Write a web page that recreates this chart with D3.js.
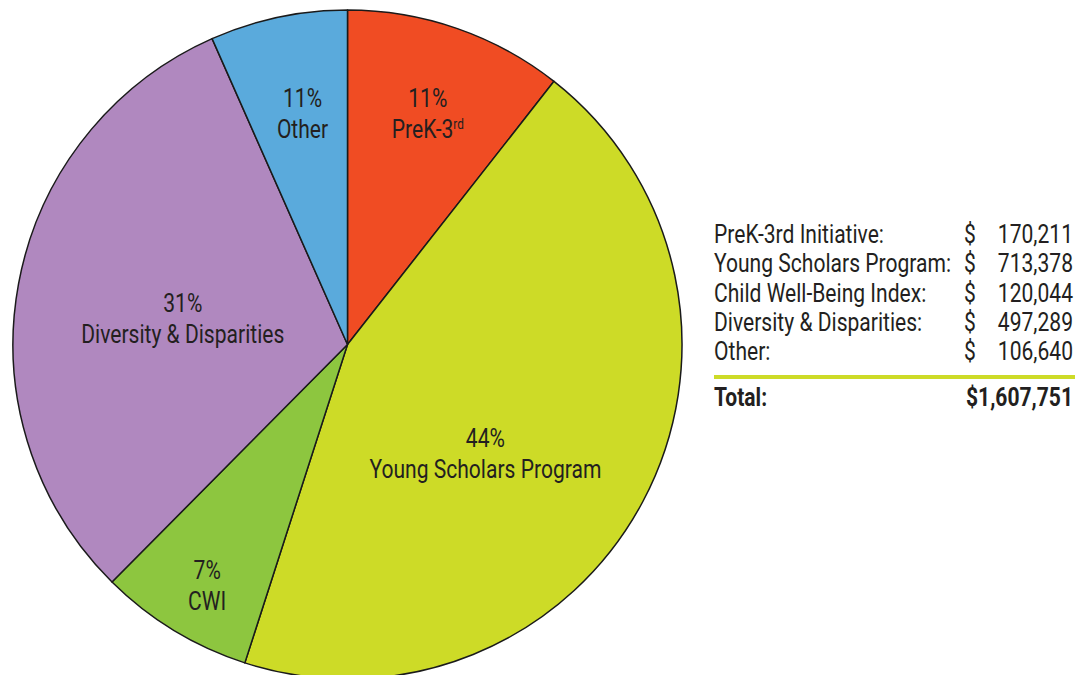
<!DOCTYPE html>
<html>
<head>
<meta charset="utf-8">
<script src="https://cdn.jsdelivr.net/npm/d3@7"></script>
<style>
  body { margin: 0; background: #fff; }
  svg text { font-family: "Roboto", "Liberation Sans", sans-serif; fill: #231f20; }
</style>
</head>
<body>
<div id="chart"></div>
<script>
// data
const categories = ["PreK-3rd Initiative", "Young Scholars Program", "Child Well-Being Index", "Diversity & Disparities", "Other"];
const shortNames = ["PreK-3", "Young Scholars Program", "CWI", "Diversity & Disparities", "Other"];
const amounts = [170211, 713378, 120044, 497289, 106640];
const pctLabels = ["11%", "44%", "7%", "31%", "11%"];
const amountLabels = ["170,211", "713,378", "120,044", "497,289", "106,640"];
const totalLabel = "$1,607,751";
const colors = ["#f04c23", "#cddb27", "#8dc63f", "#b088bf", "#5aaadc"];

// label placement (radius, angle nudge in degrees) per slice
const labelLayout = [
  { r: 246, da: 0 },
  { r: 175, da: 10 },
  { r: 278, da: -1 },
  { r: 167, da: -1 },
  { r: 237, da: 1 }
];

const width = 1088;
const height = 675;
const cx = 347.5, cy = 344.5, radius = 334.5;
const fontSize = 25;

const svg = d3.select("#chart")
  .append("svg")
  .attr("width", width)
  .attr("height", height);

// the original uses a condensed face; squeeze Roboto horizontally to match
const probe = svg.append("text").attr("font-size", fontSize).text("Young Scholars Program");
const sx = 232 / probe.node().getComputedTextLength();
probe.remove();

function label(parent, x, y, str, anchor, bold) {
  const t = parent.append("g")
    .attr("transform", `translate(${x},${y}) scale(${sx},1)`)
    .append("text")
    .attr("font-size", fontSize)
    .attr("text-anchor", anchor || "start")
    .text(str);
  if (bold) t.attr("font-weight", "bold");
  return t;
}

const pie = d3.pie().sort(null).value((d) => d);
const arcs = pie(amounts);
const arc = d3.arc().innerRadius(0).outerRadius(radius);

const g = svg.append("g").attr("transform", `translate(${cx},${cy})`);

g.selectAll("path")
  .data(arcs)
  .enter()
  .append("path")
  .attr("d", arc)
  .attr("fill", (d, i) => colors[i])
  .attr("stroke", "#1a1a1a")
  .attr("stroke-width", 1.5)
  .attr("stroke-linejoin", "round");

// slice labels
arcs.forEach((d, i) => {
  const a = (d.startAngle + d.endAngle) / 2 + labelLayout[i].da * Math.PI / 180;
  const r = labelLayout[i].r;
  const lx = r * Math.sin(a), ly = -r * Math.cos(a);
  label(g, lx, ly - 5, pctLabels[i], "middle");
  const name = label(g, lx, ly + 26, shortNames[i], "middle");
  if (i === 0) {
    name.append("tspan").attr("font-size", 14).attr("dy", -9).text("rd");
  }
});

// summary table on the right
const tx = 714, tDollar = 964, tRight = 1073, rowY0 = 243, rowH = 29.3;
const table = svg.append("g");

categories.forEach((c, i) => {
  const y = rowY0 + i * rowH;
  label(table, tx, y, c + ":");
  label(table, tDollar, y, "$");
  label(table, tRight, y, amountLabels[i], "end");
});

svg.append("line")
  .attr("x1", tx)
  .attr("x2", 1075)
  .attr("y1", 377)
  .attr("y2", 377)
  .attr("stroke", "#cddb27")
  .attr("stroke-width", 4);

label(svg, tx, 406, "Total:", "start", true);
label(svg, tRight, 406, totalLabel, "end", true);
</script>
</body>
</html>
